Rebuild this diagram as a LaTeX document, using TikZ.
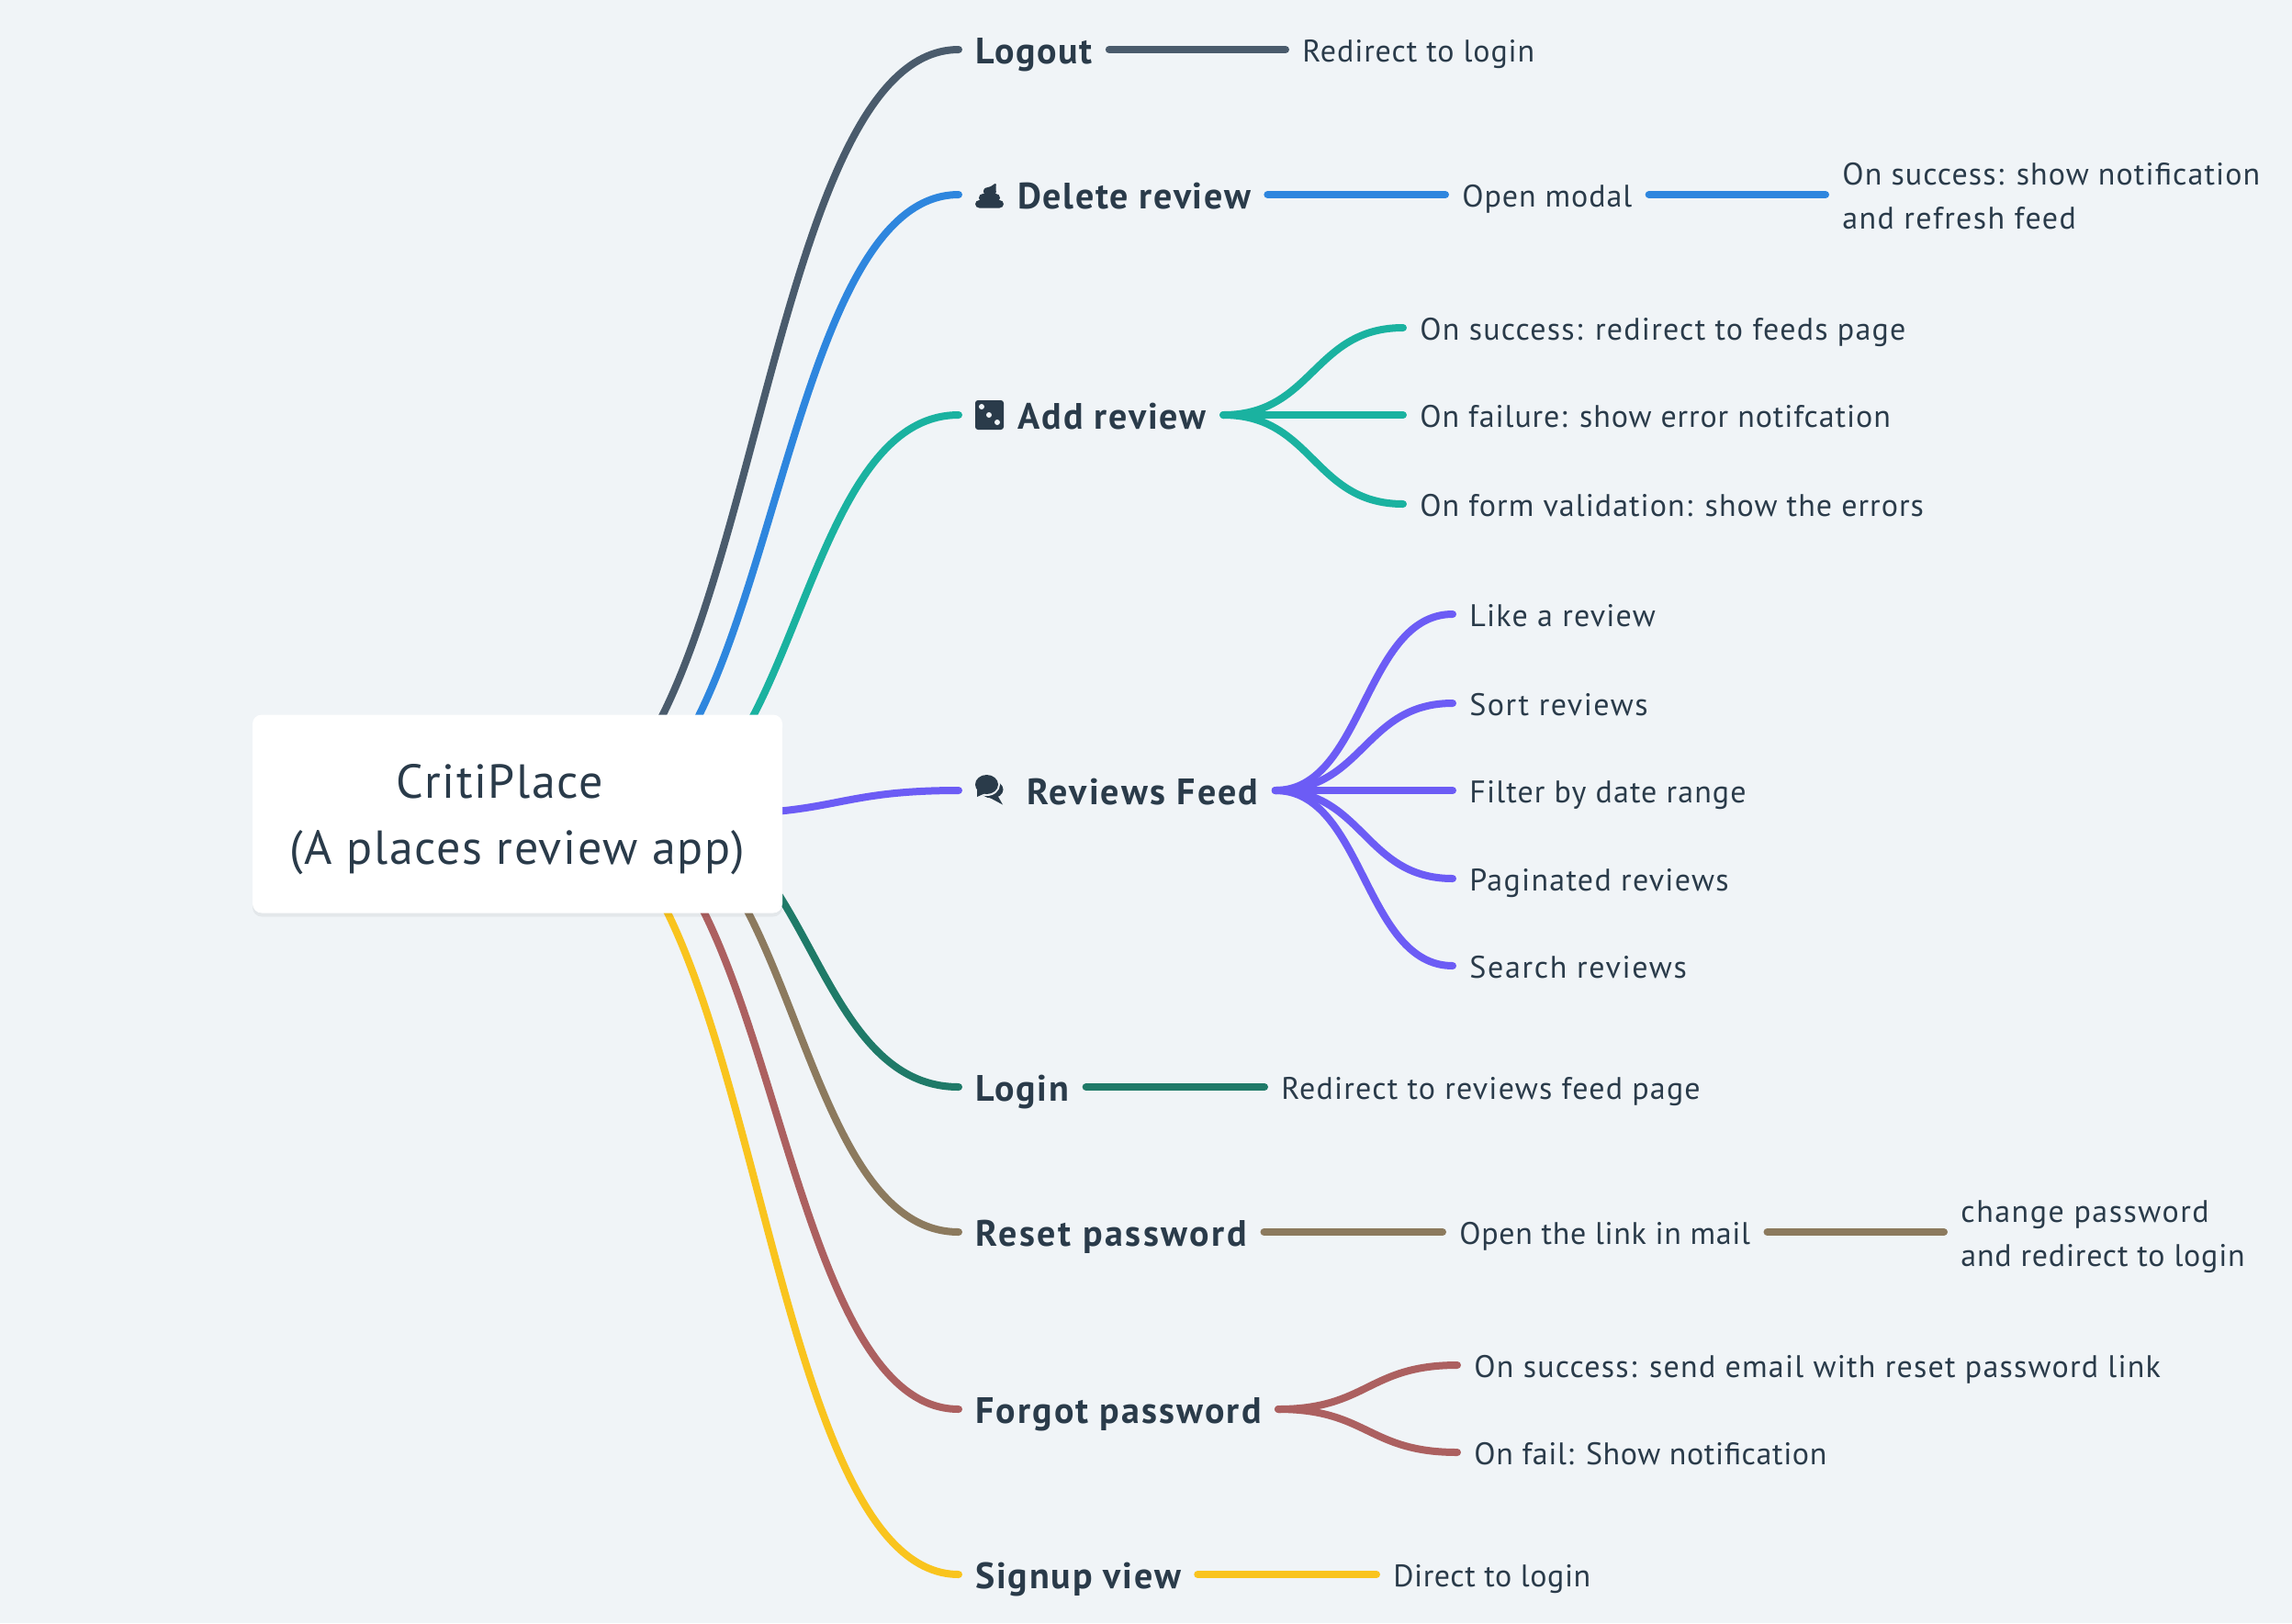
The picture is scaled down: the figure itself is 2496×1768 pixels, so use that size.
\documentclass[tikz,border=0pt]{standalone}
\usepackage{fontspec}
\setmainfont{PT Sans}
\newfontfamily\leaffont[LetterSpace=3.2]{PT Sans}
\newfontfamily\branchfont[LetterSpace=4.5]{PT Sans}
\newfontfamily\rootfont[LetterSpace=3.1]{PT Sans}
\newcommand\ls[1]{\addfontfeature{LetterSpace=#1}}
\usetikzlibrary{calc,backgrounds,shadows}
\definecolor{bgc}{HTML}{F0F4F7}
\definecolor{ink}{HTML}{2A3B4A}
\definecolor{cLogout}{HTML}{4A5B6C}
\definecolor{cDelete}{HTML}{2E86DE}
\definecolor{cAdd}{HTML}{1AB2A0}
\definecolor{cFeed}{HTML}{6C5CF5}
\definecolor{cLogin}{HTML}{1F7A68}
\definecolor{cReset}{HTML}{8C7A5E}
\definecolor{cForgot}{HTML}{AC6060}
\definecolor{cSignup}{HTML}{F9C41E}
\newcommand\mstrut{\rule[-5.5pt]{0pt}{24pt}}
\tikzset{
  wire/.style={line width=4pt,line cap=round},
  rootbox/.style={fill=white,rounded corners=5pt,minimum width=288.5pt,minimum height=108pt,inner sep=0pt,drop shadow={shadow xshift=0pt,shadow yshift=-2pt,opacity=.05,fill=black}},
  roottext/.style={inner sep=0pt,align=center,text=ink,font=\fontsize{26}{36}\rootfont},
  branchnode/.style={anchor=west,inner xsep=9pt,inner ysep=0pt,text=ink,text height=16pt,text depth=1pt,font=\fontsize{20}{24}\branchfont\bfseries},
  leafnode/.style={anchor=west,inner xsep=9pt,inner ysep=0pt,text=ink,text height=14pt,text depth=1pt,font=\fontsize{17}{24}\leaffont},
  leafmulti/.style={anchor=west,inner xsep=9pt,inner ysep=0pt,text=ink,align=left,font=\fontsize{17}{24}\leaffont},
}
\newcommand\scurve[3]{%
  \path #2 coordinate (sc) #3 coordinate (ec);
  \coordinate (mc) at ($(sc)!.5!(ec)$);
  \draw[wire,#1] (sc) .. controls (mc |- sc) and (mc |- ec) .. (ec);}
\begin{document}
\begin{tikzpicture}[x=.5pt,y=-.5pt]
\useasboundingbox (0,0) rectangle (2496,1768);
\node[rootbox] (root) at (563.5,886.5) {};
\node[roottext] (rootlabel) at (563.5,892.5) {CritiPlace\hspace*{19pt}\\(A places review app)};
% branches
\node[branchnode] (logout) at (1044,54) {\ls{4}Logout};
\node[branchnode] (delete) at (1044,212) {\hspace{23pt}\ls{4.2}Delete review};
\node[branchnode] (add) at (1044,452) {\hspace{23pt}\ls{4.8}Add review};
\node[branchnode] (feed) at (1044,861) {\hspace{28pt}\ls{5.5}Reviews Feed};
\node[branchnode] (login) at (1044,1184) {Login};
\node[branchnode] (reset) at (1044,1342) {\ls{6.5}Reset password};
\node[branchnode] (forgot) at (1044,1535) {\ls{5.3}Forgot password};
\node[branchnode] (signup) at (1044,1715) {Signup view};
% leaves
\node[leafnode] (l1) at (1400,54) {\ls{2.65}Redirect to login};
\node[leafnode] (d1) at (1574,212) {\ls{2.7}Open modal};
\node[leafmulti] (d2) at (1988,212) {\mstrut On success: show notification\\\mstrut{\ls{4.1}and refresh feed}};
\node[leafnode] (a1) at (1528,357) {\ls{3.6}On success: redirect to feeds page};
\node[leafnode] (a2) at (1528,452) {\ls{2.65}On failure: show error notifcation};
\node[leafnode] (a3) at (1528,549) {\ls{3.05}On form validation: show the errors};
\node[leafnode] (f1) at (1582,669) {\ls{3.55}Like a review};
\node[leafnode] (f2) at (1582,766) {\ls{4.4}Sort reviews};
\node[leafnode] (f3) at (1582,861) {Filter by date range};
\node[leafnode] (f4) at (1582,957) {\ls{3.75}Paginated reviews};
\node[leafnode] (f5) at (1582,1052) {\ls{4.9}Search reviews};
\node[leafnode] (g1) at (1377,1184) {\ls{3.5}Redirect to reviews feed page};
\node[leafnode] (r1) at (1571,1342) {\ls{1.9}Open the link in mail};
\node[leafmulti] (r2) at (2117,1342) {\mstrut{\ls{4.45}change password}\\\mstrut{\ls{2.3}and redirect to login}};
\node[leafnode] (o1) at (1587,1487) {\ls{3.6}On success: send email with reset password link};
\node[leafnode] (o2) at (1587,1582) {\ls{1.75}On fail: Show notification};
\node[leafnode] (s1) at (1499,1715) {\ls{1.6}Direct to login};
% icons
\fill[ink,rounded corners=2.2pt] (1062,218) rectangle (1093,226.5);
\fill[ink,rounded corners=2.2pt] (1066,211) rectangle (1089,220);
\fill[ink,rounded corners=1.5pt] (1071,212) -- (1071,205) -- (1079,203.5) -- (1085,198.5) -- (1084.5,205) -- (1085,212) -- cycle;
\fill[ink,rounded corners=1.5pt] (1062,436) rectangle (1093,468);
\fill[bgc] (1069,443) circle[radius=3] (1077,452) circle[radius=3] (1086,460) circle[radius=3];
% comments icon
\fill[ink] (1080,860) ellipse[x radius=12.5,y radius=9.5];
\fill[ink] (1086,866) -- (1092,876.5) -- (1078,869) -- cycle;
\fill[bgc] (1074.5,854.5) ellipse[x radius=14.5,y radius=12.5];
\fill[ink] (1074.5,854.5) ellipse[x radius=12.5,y radius=10.5];
\fill[ink] (1064,858) -- (1064,868) -- (1073,864) -- cycle;
% connectors
\begin{pgfonlayer}{background}
\fill[bgc] (0,0) rectangle (2496,1768);
\scurve{cLogout}{($(root.center)+(37,0)$)}{(logout.west)}
\scurve{cDelete}{($(root.center)+(77,0)$)}{(delete.west)}
\scurve{cAdd}{($(root.center)+(130,0)$)}{(add.west)}
\scurve{cFeed}{($(root.center)+(217,0)$)}{(feed.west)}
\scurve{cLogin}{($(root.center)+(158,0)$)}{(login.west)}
\scurve{cReset}{($(root.center)+(125,0)$)}{(reset.west)}
\scurve{cForgot}{($(root.center)+(82,0)$)}{(forgot.west)}
\scurve{cSignup}{($(root.center)+(44,0)$)}{(signup.west)}
\draw[wire,cLogout] (logout.east) -- (l1.west);
\draw[wire,cDelete] (delete.east) -- (d1.west);
\draw[wire,cDelete] (d1.east) -- (d2.west);
\scurve{cAdd}{(add.east)}{(a1.west)}
\scurve{cAdd}{(add.east)}{(a2.west)}
\scurve{cAdd}{(add.east)}{(a3.west)}
\scurve{cFeed}{(feed.east)}{(f1.west)}
\scurve{cFeed}{(feed.east)}{(f2.west)}
\scurve{cFeed}{(feed.east)}{(f3.west)}
\scurve{cFeed}{(feed.east)}{(f4.west)}
\scurve{cFeed}{(feed.east)}{(f5.west)}
\draw[wire,cLogin] (login.east) -- (g1.west);
\draw[wire,cReset] (reset.east) -- (r1.west);
\draw[wire,cReset] (r1.east) -- (r2.west);
\scurve{cForgot}{(forgot.east)}{(o1.west)}
\scurve{cForgot}{(forgot.east)}{(o2.west)}
\draw[wire,cSignup] (signup.east) -- (s1.west);
\end{pgfonlayer}
\end{tikzpicture}
\end{document}
